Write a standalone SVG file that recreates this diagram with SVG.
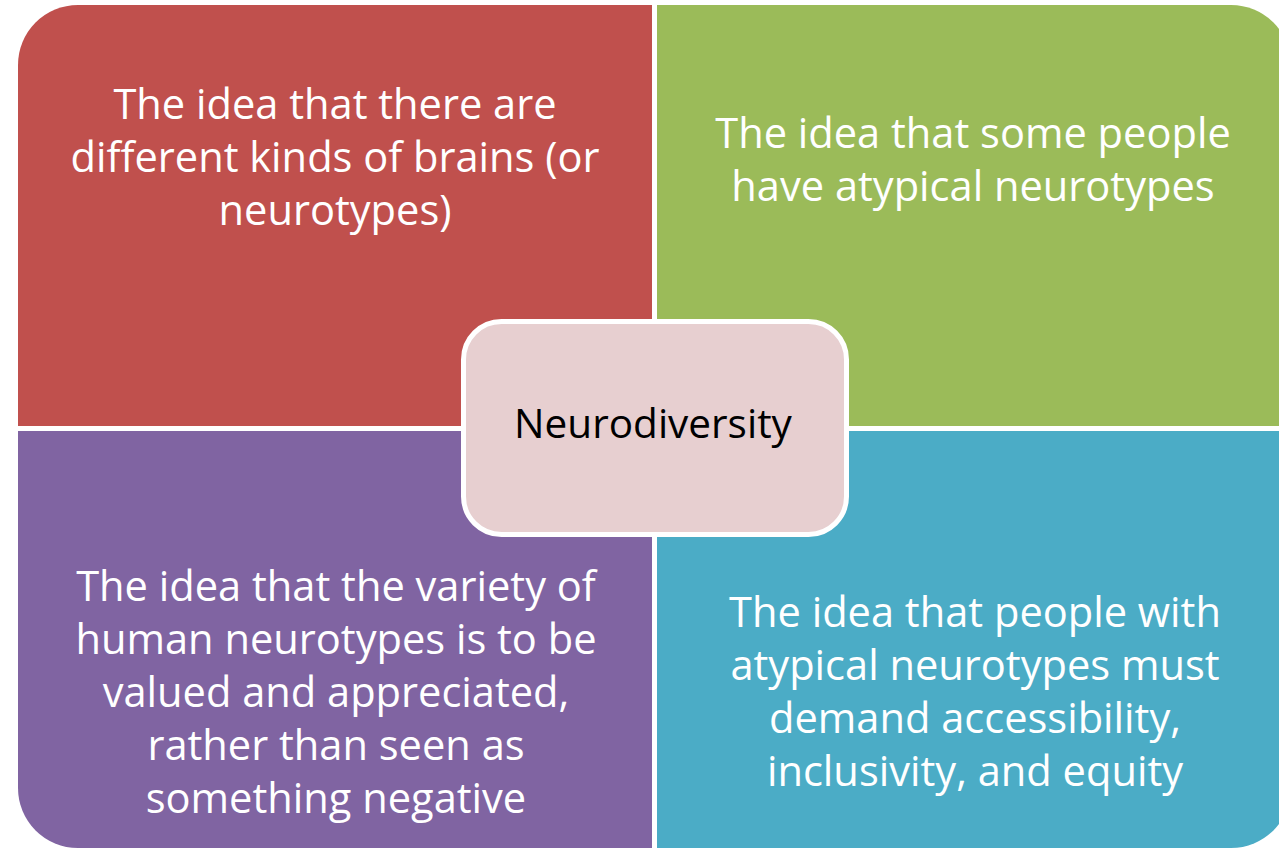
<svg xmlns="http://www.w3.org/2000/svg" width="1279" height="849" viewBox="0 0 1279 849">
<style>
.q{font-family:"Open Sans","Liberation Sans",sans-serif;font-size:41.6px;fill:#FFFFFF;text-anchor:middle}
.c{font-family:"Open Sans","Liberation Sans",sans-serif;font-size:40.5px;fill:#000000;text-anchor:middle}
</style>
<rect width="1279" height="849" fill="#FFFFFF"/>
<g id="node-red">
<path d="M18,426 V65 A60,60 0 0 1 78,5 H652 V426 Z" fill="#C0504D"/>
<text class="q"><tspan x="335" y="119">The idea that there are</tspan><tspan x="335" y="172">different kinds of brains (or</tspan><tspan x="335" y="225">neurotypes)</tspan></text>
</g>
<g id="node-green">
<path d="M657,5 H1231 A60,60 0 0 1 1291,65 V426 H657 Z" fill="#9BBB59"/>
<text class="q"><tspan x="973" y="148">The idea that some people</tspan><tspan x="973" y="201">have atypical neurotypes</tspan></text>
</g>
<g id="node-purple">
<path d="M18,431 H652 V848 H78 A60,60 0 0 1 18,788 Z" fill="#8064A2"/>
<text class="q"><tspan x="336" y="601">The idea that the variety of</tspan><tspan x="336" y="654">human neurotypes is to be</tspan><tspan x="336" y="707">valued and appreciated,</tspan><tspan x="336" y="760">rather than seen as</tspan><tspan x="336" y="813">something negative</tspan></text>
</g>
<g id="node-blue">
<path d="M657,431 H1291 V788 A60,60 0 0 1 1231,848 H657 Z" fill="#4BACC6"/>
<text class="q"><tspan x="975" y="627">The idea that people with</tspan><tspan x="975" y="680">atypical neurotypes must</tspan><tspan x="975" y="733">demand accessibility,</tspan><tspan x="975" y="786">inclusivity, and equity</tspan></text>
</g>
<g id="connectors"></g>
<g id="node-center">
<rect x="463.5" y="321.5" width="383" height="213" rx="38" ry="38" fill="#E7CFD0" stroke="#FFFFFF" stroke-width="5"/>
<text class="c" x="653" y="438">Neurodiversity</text>
</g>
</svg>
